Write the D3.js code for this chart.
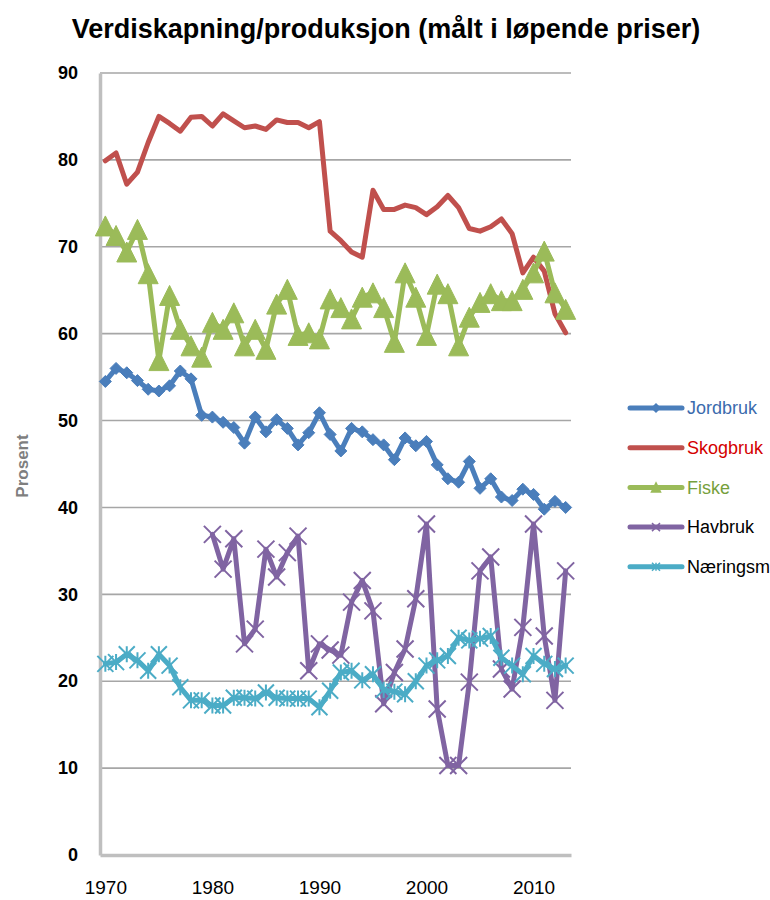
<!DOCTYPE html>
<html>
<head>
<meta charset="utf-8">
<script src="https://cdn.jsdelivr.net/npm/d3@7"></script>
<style>
  html, body { margin: 0; padding: 0; background: #fff; }
  svg { display: block; font-family: "Liberation Sans Narrow", "Liberation Sans", Arial, sans-serif; }
</style>
</head>
<body>
<svg id="chart" width="770" height="900"></svg>
<script>
// ---- data ----
const YEARS = [1970,1971,1972,1973,1974,1975,1976,1977,1978,1979,
               1980,1981,1982,1983,1984,1985,1986,1987,1988,1989,
               1990,1991,1992,1993,1994,1995,1996,1997,1998,1999,
               2000,2001,2002,2003,2004,2005,2006,2007,2008,2009,
               2010,2011,2012,2013];

const JORDBRUK = [54.5,56.0,55.5,54.6,53.6,53.4,54.0,55.7,54.8,50.6,
                  50.4,49.8,49.2,47.4,50.4,48.7,50.1,49.1,47.2,48.6,
                  50.9,48.4,46.5,49.1,48.7,47.8,47.2,45.5,48.0,47.1,
                  47.6,44.9,43.3,42.9,45.3,42.2,43.3,41.2,40.8,42.1,
                  41.5,39.8,40.7,40.0];

const SKOGBRUK = [79.9,80.8,77.2,78.6,82.0,85.0,84.2,83.3,84.9,85.0,
                  83.9,85.3,84.5,83.7,83.9,83.5,84.6,84.3,84.3,83.7,
                  84.4,71.8,70.7,69.4,68.8,76.5,74.3,74.3,74.8,74.5,
                  73.7,74.6,75.9,74.5,72.1,71.8,72.3,73.2,71.5,67.0,
                  68.8,67.2,62.3,60.1];

const FISKE    = [72.4,71.3,69.4,72.0,66.9,56.9,64.4,60.5,58.6,57.3,
                  61.3,60.5,62.4,58.6,60.5,58.2,63.4,65.1,59.8,60.1,
                  59.4,64.0,63.0,61.7,64.2,64.7,63.0,59.0,67.0,64.2,
                  59.8,65.7,64.6,58.6,61.9,63.6,64.6,63.8,63.8,65.1,
                  67.0,69.5,64.7,62.8];

const HAVBRUK  = [null,null,null,null,null,null,null,null,null,null,
                  36.9,32.9,36.4,24.3,26.0,35.2,32.0,34.8,36.7,21.2,
                  24.3,23.6,23.0,29.1,31.6,28.1,17.4,21.0,23.7,29.5,
                  38.1,16.8,10.3,10.3,19.9,32.7,34.3,21.4,19.1,26.2,
                  38.1,25.2,17.8,32.7];

const NARINGSM = [22.0,22.2,23.1,22.4,21.2,23.1,21.8,19.3,17.8,17.8,
                  17.2,17.2,18.1,18.1,18.0,18.7,18.1,18.0,18.0,18.0,
                  17.0,18.9,21.0,21.2,20.1,20.8,19.0,18.8,18.5,20.0,
                  21.8,22.4,22.9,25.0,24.7,24.9,25.2,22.7,21.8,20.8,
                  22.9,22.0,21.4,21.8];

const Y_TICKS = [0,10,20,30,40,50,60,70,80,90];
const X_TICKS = [1970,1980,1990,2000,2010];

const SERIES = [
  { name: "Jordbruk", values: JORDBRUK, color: "#4a7ebb", text: "#3b6bad", marker: "diamond" },
  { name: "Skogbruk", values: SKOGBRUK, color: "#c0504d", text: "#d40000", marker: "none" },
  { name: "Fiske",    values: FISKE,    color: "#9bbb59", text: "#76a03c", marker: "triangle" },
  { name: "Havbruk",  values: HAVBRUK,  color: "#8064a2", text: "#000000", marker: "x" },
  { name: "Næringsm", values: NARINGSM, color: "#4bacc6", text: "#000000", marker: "star" },
];

// ---- layout ----
const svg = d3.select("#chart");
const L = 100, R = 571, T = 73, B = 855;

const x = d3.scaleLinear().domain([1969.5, 2013.5]).range([L, R]);
const y = d3.scaleLinear().domain([0, 90]).range([B, T]);

// title
svg.append("text")
  .attr("x", 386).attr("y", 38)
  .attr("text-anchor", "middle")
  .style("font-size", "27px").style("font-weight", 700)
  .text("Verdiskapning/produksjon (målt i løpende priser)");

// gridlines
svg.append("g").selectAll("line")
  .data(Y_TICKS.filter(d => d > 0))
  .join("line")
  .attr("x1", L).attr("x2", R)
  .attr("y1", d => y(d)).attr("y2", d => y(d))
  .attr("stroke", "#a6a6a6").attr("stroke-width", 1.6);

// axes
const yAxis = svg.append("g")
  .attr("transform", `translate(${L},0)`)
  .call(d3.axisLeft(y).tickValues(Y_TICKS).tickSize(0).tickPadding(22));
const xAxis = svg.append("g")
  .attr("transform", `translate(0,${B})`)
  .call(d3.axisBottom(x).tickValues(X_TICKS).tickFormat(d3.format("d")).tickSize(0).tickPadding(26));

[yAxis, xAxis].forEach(a => {
  a.select(".domain").attr("stroke", "#bfbfbf").attr("stroke-width", 3.5);
  a.selectAll("text").style("fill", "#000")
    .style("font-family", "'Liberation Sans Narrow', 'Liberation Sans', sans-serif");
});
yAxis.selectAll("text").style("font-size", "18px").style("font-weight", 700);
xAxis.selectAll("text").style("font-size", "19px");

svg.append("text")
  .attr("transform", "translate(28,466) rotate(-90)")
  .attr("text-anchor", "middle")
  .style("font-size", "17px").style("font-weight", 700).style("fill", "#7f7f7f")
  .text("Prosent");

// markers
function markerPath(type, s) {
  const h = s / 2;
  switch (type) {
    case "diamond":  return `M0,${-h}L${h},0L0,${h}L${-h},0Z`;
    case "triangle": return `M0,${-h}L${h},${h}L${-h},${h}Z`;
    case "x":        return `M${-h},${-h}L${h},${h}M${-h},${h}L${h},${-h}`;
    case "star":     return `M${-h},${-h}L${h},${h}M${-h},${h}L${h},${-h}M0,${-h}L0,${h}`;
  }
  return "";
}
const MSIZE = { diamond: 12, triangle: 20, x: 17, star: 16 };

const line = d3.line()
  .defined(d => d.v != null)
  .x(d => x(d.year))
  .y(d => y(d.v));

SERIES.forEach(s => {
  const pts = YEARS.map((yr, i) => ({ year: yr, v: s.values[i] }));
  const g = svg.append("g");
  g.append("path")
    .attr("d", line(pts))
    .attr("fill", "none")
    .attr("stroke", s.color)
    .attr("stroke-width", 5)
    .attr("stroke-linejoin", "round")
    .attr("stroke-linecap", "round");
  if (s.marker === "none") return;
  const filled = s.marker === "diamond" || s.marker === "triangle";
  g.selectAll("path.m")
    .data(pts.filter(p => p.v != null))
    .join("path")
    .attr("class", "m")
    .attr("transform", d => `translate(${x(d.year)},${y(d.v)})`)
    .attr("d", markerPath(s.marker, MSIZE[s.marker]))
    .attr("fill", filled ? s.color : "none")
    .attr("stroke", s.color)
    .attr("stroke-width", filled ? 1 : 2);
});

// legend
const lg = svg.append("g").attr("transform", "translate(630,408)");
const item = lg.selectAll("g")
  .data(SERIES)
  .join("g")
  .attr("transform", (_, i) => `translate(0,${i * 39.7})`);
item.append("line")
  .attr("x1", 0).attr("x2", 52).attr("y1", 0).attr("y2", 0)
  .attr("stroke", d => d.color).attr("stroke-width", 5)
  .attr("stroke-linecap", "round");
item.filter(d => d.marker !== "none").append("path")
  .attr("transform", "translate(26,0)")
  .attr("d", d => markerPath(d.marker, d.marker === "triangle" ? 9 : 8))
  .attr("fill", d => (d.marker === "diamond" || d.marker === "triangle") ? d.color : "none")
  .attr("stroke", d => d.color).attr("stroke-width", 1.5);
item.append("text")
  .attr("x", 57).attr("y", 0).attr("dy", "0.35em")
  .style("font-size", "18px")
  .style("fill", d => d.text)
  .text(d => d.name);
</script>
</body>
</html>
